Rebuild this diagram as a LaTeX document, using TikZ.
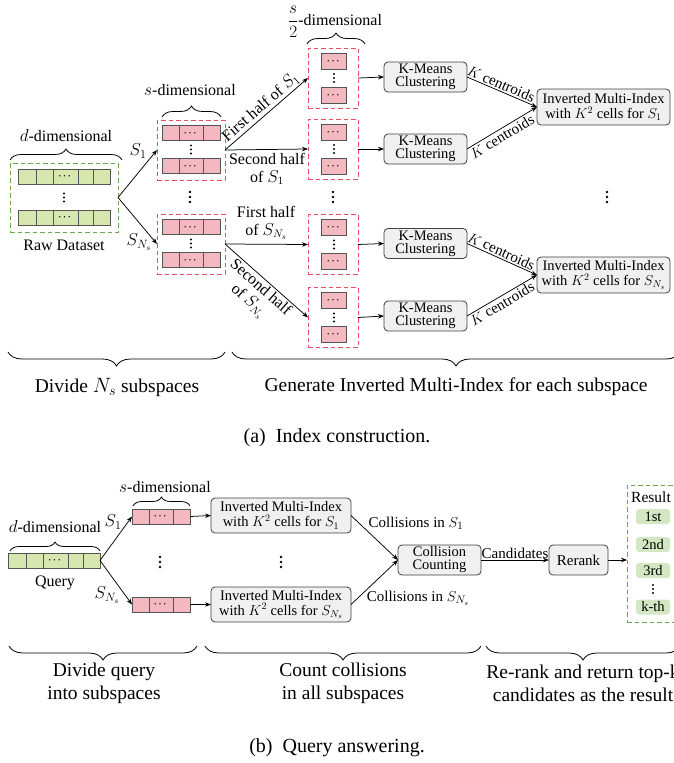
\documentclass[tikz,border=0pt]{standalone}
\usepackage{amsmath}
\usepackage{fontspec}
\setmainfont{Liberation Serif}
\usetikzlibrary{arrows.meta,decorations.pathreplacing,calc}
\definecolor{gfill}{HTML}{D8E7B0}
\definecolor{gdashc}{HTML}{6AA84F}
\definecolor{pfill}{HTML}{F4B8C1}
\definecolor{pdashc}{HTML}{E8505F}
\definecolor{celld}{HTML}{555555}
\definecolor{boxfill}{HTML}{F0F0F0}
\definecolor{boxd}{HTML}{404040}
\definecolor{pillc}{HTML}{D3E8C2}
\newcommand{\celldots}{{\fontsize{9}{9}\selectfont\boldmath$\cdots$}}
\newcommand{\greenrow}[3]{%
 \node[gcell,minimum width=18pt,anchor=west] (#1a) at (#2,#3) {};
 \node[gcell,minimum width=17pt,anchor=west] (#1b) at (#1a.east) {};
 \node[gcell,minimum width=25pt,anchor=west] (#1c) at (#1b.east) {\celldots};
 \node[gcell,minimum width=15pt,anchor=west] (#1d) at (#1c.east) {};
 \node[gcell,minimum width=17pt,anchor=west] (#1e) at (#1d.east) {};}
\newcommand{\pinkrow}[3]{%
 \node[pcell,minimum width=17pt,anchor=west] (#1a) at (#2,#3) {};
 \node[pcell,minimum width=24pt,anchor=west] (#1b) at (#1a.east) {\celldots};
 \node[pcell,minimum width=17pt,anchor=west] (#1c) at (#1b.east) {};}
\tikzset{
 cell/.style={draw=celld, line width=0.7pt, minimum height=15pt, inner sep=0pt, outer sep=0pt},
 gcell/.style={cell, fill=gfill},
 pcell/.style={cell, fill=pfill},
 hcell/.style={cell, fill=pfill, minimum width=25pt, minimum height=16pt},
 gdash/.style={draw=gdashc, dash pattern=on 4.5pt off 3pt, line width=0.9pt, inner sep=0pt, outer sep=0pt},
 pdash/.style={draw=pdashc, dash pattern=on 4.5pt off 3pt, line width=0.9pt, inner sep=0pt, outer sep=0pt},
 rbox/.style={draw=boxd, fill=boxfill, rounded corners=4pt, line width=0.8pt, align=center, inner sep=0pt, outer sep=0pt},
 kmfont/.style={font=\fontsize{14.5}{13}\selectfont},
 imifont/.style={font=\fontsize{14.5}{15}\selectfont},
 arr/.style={-{Stealth[length=6pt,width=4.5pt]}, line width=0.75pt},
 lbl/.style={font=\fontsize{16}{18}\selectfont, inner sep=1.5pt},
 slbl/.style={font=\fontsize{15}{16}\selectfont, inner sep=1.5pt},
 mlbl/.style={font=\fontsize{17}{17}\selectfont, inner sep=0pt},
 blbl/.style={font=\fontsize{19.5}{23}\selectfont, align=center, inner sep=0pt},
 captext/.style={font=\fontsize{20}{22}\selectfont, inner sep=0pt},
 brc/.style={decorate, decoration={brace, amplitude=#1}, line width=0.8pt},
 pill/.style={fill=pillc, rounded corners=3pt, minimum width=34pt, minimum height=15pt, inner sep=0pt, font=\fontsize{14.5}{14}\selectfont},
 vdts/.pic={\fill (0,-4) circle (1.15pt); \fill (0,0) circle (1.15pt); \fill (0,4) circle (1.15pt);},
 vdtsb/.pic={\fill (0,-5) circle (1.3pt); \fill (0,0) circle (1.3pt); \fill (0,5) circle (1.3pt);},
}
\begin{document}
\begin{tikzpicture}[x=1pt,y=-1pt]
\useasboundingbox (0,0) rectangle (674,763);
% ================= (a) =================
\node[gdash, minimum width=108pt, minimum height=69pt] (gbox) at (64,197.5) {};
\greenrow{ga}{18}{176.5}
\greenrow{gb}{18}{217.5}
\pic (gdots) at (64,197.5) {vdts};
\node[lbl] (rawlbl) at (64,245) {Raw Dataset};
\node[lbl] (ddim) at (66,136) {$d$-dimensional};
\draw[brc=11pt] (10,160) -- (122,160);
\node[pdash, minimum width=68pt, minimum height=60pt] (pbox1) at (191,150) {};
\pinkrow{pa}{162}{133}
\pinkrow{pb}{162}{166}
\pic (pdots1) at (191,149.5) {vdts};
\node[pdash, minimum width=68pt, minimum height=60pt] (pbox2) at (191,244) {};
\pinkrow{pc}{162}{227}
\pinkrow{pd}{162}{260}
\pic (pdots2) at (191,243.5) {vdts};
\pic (pmid) at (190,197) {vdtsb};
\node[lbl] (sdim) at (190,90) {$s$-dimensional};
\draw[brc=11pt] (162,117) -- (221,117);
\foreach \i/\y in {1/78,2/149,3/244.5,4/317.5}{
 \node[pdash, minimum width=50pt, minimum height=60pt] (hbox\i) at (333,\y) {};
 \node[hcell] (hc\i t) at (334,\y-17) {\celldots};
 \node[hcell] (hc\i b) at (334,\y+17) {\celldots};
 \pic (hd\i) at (334,\y) {vdts};
}
\pic (hmid) at (333,197) {vdtsb};
\node[lbl] (hdim) at (335,22) {$\dfrac{s}{2}$-dimensional};
\draw[brc=11pt] (307,44) -- (365,44);
\foreach \i/\y in {1/77,2/149,3/243.5,4/316}{
 \node[rbox, kmfont, minimum width=83pt, minimum height=30pt] (km\i) at (425.5,\y) {K-Means\\Clustering};
 \draw[arr] (hbox\i.east) -- (km\i.west);
}
\node[rbox, imifont, minimum width=133pt, minimum height=36pt] (imi1) at (603.5,107) {Inverted Multi-Index\\with $K^2$ cells for $S_1$};
\node[rbox, imifont, minimum width=133pt, minimum height=36pt] (imi2) at (603.5,275) {Inverted Multi-Index\\with $K^2$ cells for $S_{N_s}$};
\pic (imid) at (607,197) {vdtsb};
\draw[arr] (gbox.east) -- (pbox1.west);
\draw[arr] (gbox.east) -- (pbox2.west);
\node[mlbl] (s1a) at (138,151) {$S_1$};
\node[mlbl] (sna) at (139,242) {$S_{N_s}$};
\draw[arr] (pbox1.east) -- node[sloped,above,lbl]{First half of $S_1$} (hbox1.west);
\draw[arr] (pbox1.east) -- (hbox2.west);
\node[lbl,align=center] (sh1) at (267,169) {Second half\\of $S_1$};
\draw[arr] (pbox2.east) -- (hbox3.west);
\node[lbl,align=center] (fhn) at (266,222.5) {First half\\of $S_{N_s}$};
\draw[arr] (pbox2.east) -- node[sloped,below,lbl,align=center]{Second half\\of $S_{N_s}$} (hbox4.west);
\draw[arr] (km1.east) -- node[sloped,above,slbl,pos=0.45]{$K$ centroids} (imi1.west);
\draw[arr] (km2.east) -- node[sloped,below,slbl,pos=0.45]{$K$ centroids} (imi1.west);
\draw[arr] (km3.east) -- node[sloped,above,slbl,pos=0.45]{$K$ centroids} (imi2.west);
\draw[arr] (km4.east) -- node[sloped,below,slbl,pos=0.45]{$K$ centroids} (imi2.west);
\draw[brc=14pt] (225,352) -- (8,352);
\draw[brc=14pt] (680,352) -- (232,352);
\node[blbl] (diva) at (117,387) {Divide $N_s$ subspaces};
\node[blbl] (gena) at (456,387) {Generate Inverted Multi-Index for each subspace};
\node[captext] (capa) at (337,438) {(a)\ \ Index construction.};
% ================= (b) =================
\greenrow{q}{8}{560.5}
\node[lbl] (qlbl) at (55,583) {Query};
\node[lbl] (qdim) at (55,527) {$d$-dimensional};
\draw[brc=9pt] (10,551) -- (100,551);
\pinkrow{qa}{132}{516.5}
\pinkrow{qb}{132}{604.5}
\pic (qdots) at (160,562) {vdtsb};
\node[lbl] (qsdim) at (165,487) {$s$-dimensional};
\draw[brc=9pt] (133,506) -- (190,506);
\draw[arr] (qe.east) -- (qaa.west);
\draw[arr] (qe.east) -- (qba.west);
\node[mlbl] (s1b) at (113,522) {$S_1$};
\node[mlbl] (snb) at (107,595) {$S_{N_s}$};
\node[rbox, imifont, minimum width=140pt, minimum height=35pt] (bimi1) at (281,515.5) {Inverted Multi-Index\\with $K^2$ cells for $S_1$};
\node[rbox, imifont, minimum width=140pt, minimum height=35pt] (bimi2) at (281,604.5) {Inverted Multi-Index\\with $K^2$ cells for $S_{N_s}$};
\pic (bdots) at (281,562) {vdtsb};
\draw[arr] (qac.east) -- (bimi1.west);
\draw[arr] (qbc.east) -- (bimi2.west);
\node[rbox, kmfont, minimum width=83pt, minimum height=30pt] (cc) at (439.5,560) {Collision\\Counting};
\draw[arr] (bimi1.east) -- (cc.west);
\draw[arr] (bimi2.east) -- (cc.west);
\node[slbl] (col1) at (416,523) {Collisions in $S_1$};
\node[slbl] (col2) at (418,598) {Collisions in $S_{N_s}$};
\node[rbox, font=\fontsize{15}{15}\selectfont, minimum width=59pt, minimum height=30pt] (rerank) at (578.5,560) {Rerank};
\draw[arr] (cc.east) -- node[above,slbl,inner sep=1pt]{Candidates} (rerank.west);
\node[gdash, minimum width=63pt, minimum height=137pt] (resbox) at (658.5,553.5) {};
\draw[arr] (rerank.east) -- (rerank.east -| resbox.west);
\node[anchor=west, font=\fontsize{15.5}{16}\selectfont, inner sep=0pt] (reslbl) at (631,497) {Result};
\node[pill] (r1) at (653,516.5) {1st};
\node[pill] (r2) at (653,544.5) {2nd};
\node[pill] (r3) at (653,570.5) {3rd};
\pic (rdots) at (653,589) {vdts};
\node[pill] (rk) at (653,607) {k-th};
\draw[brc=14pt] (197,646) -- (9,646);
\draw[brc=14pt] (481,646) -- (205,646);
\draw[brc=14pt] (680,646) -- (486,646);
\node[blbl] (divb) at (104,683.5) {Divide query\\into subspaces};
\node[blbl] (cntb) at (343,683.5) {Count collisions\\in all subspaces};
\node[blbl] (rrb) at (583,683.5) {Re-rank and return top-k\\candidates as the result};
\node[captext] (capb) at (337,748) {(b)\ \ Query answering.};
\end{tikzpicture}
\end{document}
